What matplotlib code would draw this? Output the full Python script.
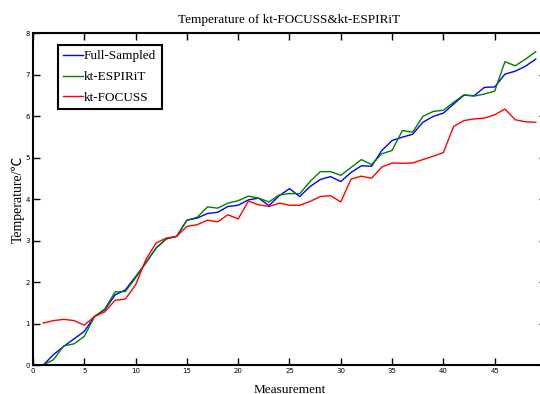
import numpy as np
import matplotlib
matplotlib.use('Agg')
import matplotlib.pyplot as plt

# measurement index
meas = np.arange(1, 50)

full_sampled = [0.0, 0.25, 0.45, 0.63, 0.81, 1.17, 1.33, 1.69, 1.81, 2.13,
                2.46, 2.82, 3.04, 3.10, 3.49, 3.54, 3.65, 3.68, 3.82, 3.85,
                3.98, 4.02, 3.84, 4.08, 4.25, 4.06, 4.30, 4.47, 4.54, 4.42,
                4.64, 4.80, 4.79, 5.17, 5.41, 5.49, 5.56, 5.85, 5.99, 6.07,
                6.29, 6.50, 6.49, 6.69, 6.70, 7.01, 7.08, 7.20, 7.37]

kt_espirit = [0.0, 0.13, 0.46, 0.51, 0.69, 1.17, 1.35, 1.76, 1.77, 2.10,
              2.46, 2.82, 3.04, 3.10, 3.49, 3.56, 3.81, 3.78, 3.90, 3.96,
              4.07, 4.02, 3.93, 4.10, 4.13, 4.13, 4.42, 4.66, 4.66, 4.57,
              4.76, 4.95, 4.83, 5.09, 5.17, 5.65, 5.61, 5.99, 6.11, 6.14,
              6.33, 6.51, 6.48, 6.53, 6.60, 7.31, 7.21, 7.37, 7.55]

kt_focuss = [1.01, 1.07, 1.10, 1.07, 0.96, 1.17, 1.28, 1.56, 1.59, 1.93,
             2.54, 2.94, 3.06, 3.10, 3.34, 3.38, 3.49, 3.45, 3.62, 3.52,
             3.95, 3.86, 3.82, 3.90, 3.85, 3.85, 3.94, 4.06, 4.08, 3.93,
             4.48, 4.55, 4.50, 4.77, 4.87, 4.86, 4.87, 4.95, 5.03, 5.12,
             5.75, 5.89, 5.93, 5.95, 6.03, 6.17, 5.91, 5.86, 5.85]

serif = ['Liberation Serif', 'Noto Sans CJK SC', 'DejaVu Sans']

fig = plt.figure(figsize=(5.4, 3.94), dpi=100)
ax = fig.add_axes([0.0611, 0.0736, 0.95, 0.8426])

ax.plot(meas, full_sampled, color='#0000ff', lw=1.0, label='Full-Sampled')
ax.plot(meas, kt_espirit, color='#008000', lw=1.0, label='kt-ESPIRiT')
ax.plot(meas, kt_focuss, color='#ff0000', lw=1.0, label='kt-FOCUSS')

ax.set_xlim(0, 50)
ax.set_ylim(0, 8)
ax.set_xticks(np.arange(0, 46, 5))
ax.set_yticks(np.arange(0, 9, 1))
ax.tick_params(direction='in', length=5, width=1, labelsize=5, pad=2,
               top=True, right=True)
for s in ax.spines.values():
    s.set_linewidth(1.5)

ax.set_title('Temperature of kt-FOCUSS&kt-ESPIRiT', family=serif,
             fontsize=9.5, pad=7)
ax.set_xlabel('Measurement', family=serif, fontsize=9.5, labelpad=7)
ax.set_ylabel('Temperature/\u2103', family=serif, fontsize=10, labelpad=0.5)

leg = ax.legend(loc='upper left', bbox_to_anchor=(0.048, 0.964),
                borderaxespad=0, prop={'family': serif, 'size': 9.5},
                handlelength=1.5, handletextpad=0.1, labelspacing=0.65,
                borderpad=0.4, fancybox=False, framealpha=1)
leg.get_frame().set_edgecolor('black')
leg.get_frame().set_linewidth(1.5)

fig.savefig('out.png', dpi=100)
